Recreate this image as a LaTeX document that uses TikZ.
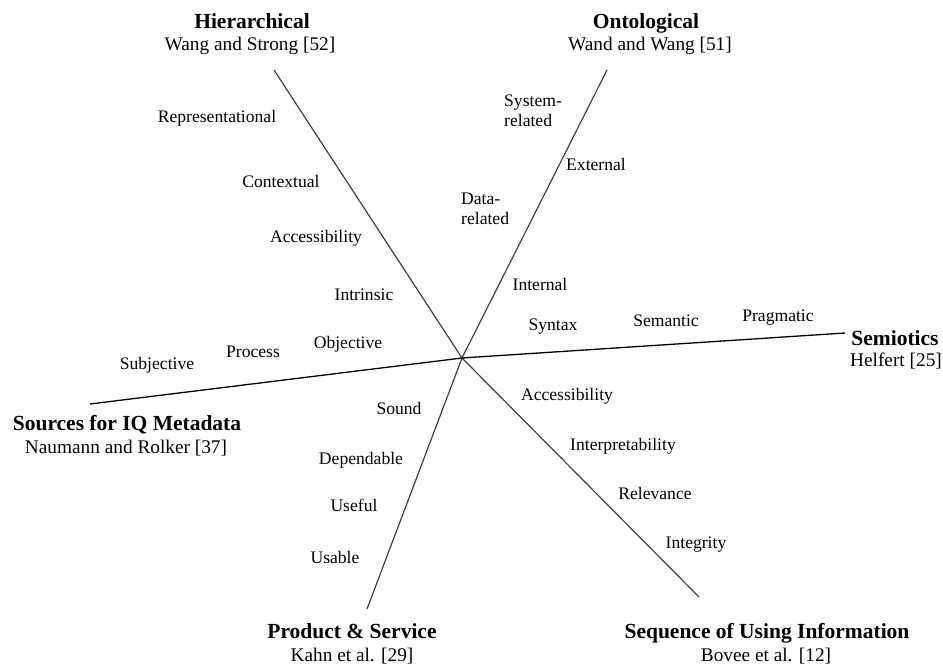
\documentclass[tikz,border=0pt]{standalone}
\usepackage{fontspec}
\setmainfont{Liberation Serif}
\usetikzlibrary{positioning}

\begin{document}
\begin{tikzpicture}[x=1pt,y=-1pt]
\tikzset{every node/.style={inner sep=0pt, anchor=base},
  dim/.style={font=\fontsize{17.6}{20}\selectfont, yshift=-5pt},
  facet/.style={font=\bfseries\fontsize{21.5}{24}\selectfont, yshift=-7pt},
  cite/.style={font=\fontsize{19.3}{22}\selectfont, yshift=-6pt},
  spoke/.style={draw=black!75, line width=1.2pt}}
\useasboundingbox (0,0) rectangle (943,666);
% hub and the six ends
\coordinate (O) at (462,358);
\coordinate (hier) at (274,70);
\coordinate (onto) at (607,70);
\coordinate (semi) at (845,333);
\coordinate (src) at (90,404);
\coordinate (prod) at (367,609);
\coordinate (seq) at (699,597);
\foreach \e in {hier,onto,seq,prod}
  \draw[spoke] (O) -- (\e);
\foreach \e in {semi,src}
  \draw[spoke, draw=black, line width=1.3pt] (O) -- (\e);
% frameworks
\foreach \x/\y/\t [count=\i] in
{252/22/Hierarchical, 646/22/Ontological, 127/423/Sources for IQ Metadata,
 895/338/Semiotics, 352/631/Product \& Service, 767/631/Sequence of Using Information}
  \node[facet] (fw\i) at (\x,\y) {\t};
\foreach \x/\y/\t [count=\i] in
{250/45/Wang and Strong [52], 650/45/Wand and Wang [51], 126/447/Naumann and Rolker [37],
 896/360/Helfert [25], 352/655/Kahn et al. [29], 766/655/Bovee et al. [12]}
  \node[cite] (ref\i) at (\x,\y) {\t};
% dimensions
\foreach \x/\y/\t [count=\i] in
{217/118/Representational, 281/183/Contextual, 316/237/Accessibility,
 364/295/Intrinsic, 348/343/Objective, 253/352/Process, 157/364/Subjective,
 399/409/Sound, 361/459/Dependable, 354/506/Useful, 335/558/Usable,
 596/166/External, 540/285/Internal, 553/325/Syntax, 666/321/Semantic,
 778/316/Pragmatic, 567/395/Accessibility, 623/445/Interpretability,
 655/494/Relevance, 696/543/Integrity}
  \node[dim] (dim\i) at (\x,\y) {\t};
\node[dim, anchor=north west, yshift=0pt, align=left] (sysrel) at (504,90) {System-\\related};
\node[dim, anchor=north west, yshift=0pt, align=left] (datarel) at (461,188) {Data-\\related};
\end{tikzpicture}
\end{document}
